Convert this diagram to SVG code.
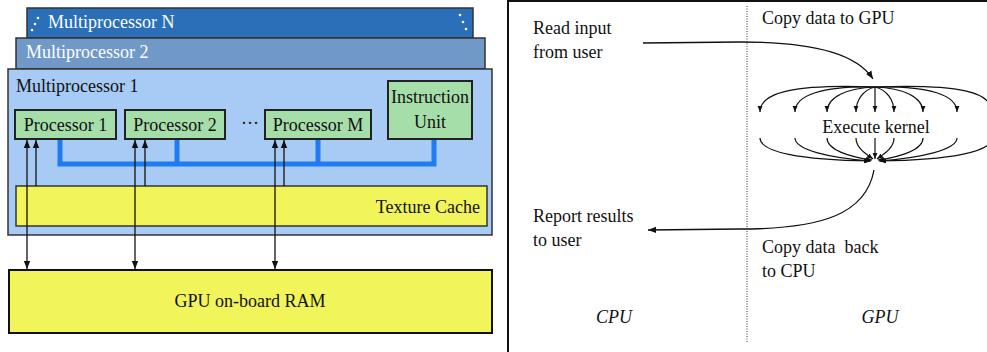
<svg xmlns="http://www.w3.org/2000/svg" width="987" height="352" viewBox="0 0 987 352">
<style>
text{font-family:"Liberation Serif","Times New Roman",serif;font-size:18px;fill:#111}
.w{fill:#fff}
.it{font-style:italic}
.mp{stroke:#333;stroke-width:1.5}
.pr{fill:#a6deaa;stroke:#222;stroke-width:2}
.bus{fill:none;stroke:#1e7cf0;stroke-width:5}
.ln{fill:none;stroke:#111;stroke-width:1.3}
.fan{fill:none;stroke:#111;stroke-width:1.2}
</style>
<defs>
<marker id="ah" viewBox="0 0 10 10" refX="10" refY="5" markerWidth="8" markerHeight="8" markerUnits="userSpaceOnUse" orient="auto-start-reverse"><path d="M0,1 L10,5 L0,9 Z" fill="#111"/></marker>
<marker id="ahs" viewBox="0 0 10 10" refX="10" refY="5" markerWidth="6" markerHeight="6" markerUnits="userSpaceOnUse" orient="auto"><path d="M0,1 L10,5 L0,9 Z" fill="#111"/></marker>
</defs>
<g id="multiprocessorN">
<rect x="27" y="8" width="446" height="30" fill="#2a6fb8" class="mp"/>
<circle cx="32" cy="30" r="1.3" fill="#fff"/><circle cx="35" cy="24" r="1.3" fill="#fff"/><circle cx="38" cy="18" r="1.3" fill="#fff"/>
<circle cx="460" cy="15" r="1.3" fill="#fff"/><circle cx="463" cy="22" r="1.3" fill="#fff"/><circle cx="466" cy="29" r="1.3" fill="#fff"/>
<text x="48" y="28" class="w">Multiprocessor N</text>
</g>
<g id="multiprocessor2">
<rect x="16" y="38" width="469" height="31" fill="#7099c8" class="mp"/>
<text x="26" y="58" class="w">Multiprocessor 2</text>
</g>
<g id="multiprocessor1">
<rect x="8" y="69" width="484" height="166" fill="#a7cbf4" class="mp"/>
<text x="16" y="92">Multiprocessor 1</text>
<text x="250" y="129" text-anchor="middle">···</text>
</g>
<g id="bus">
<path class="bus" d="M60,139 V164 H434 V139 M177,139 V164 M318,139 V164"/>
</g>
<g id="processor1"><rect x="15" y="110" width="101" height="29" class="pr"/><text x="65.5" y="131" text-anchor="middle">Processor 1</text></g>
<g id="processor2"><rect x="125" y="110" width="100" height="29" class="pr"/><text x="175" y="131" text-anchor="middle">Processor 2</text></g>
<g id="processorM"><rect x="265" y="110" width="106" height="29" class="pr"/><text x="318" y="131" text-anchor="middle">Processor M</text></g>
<g id="instructionUnit"><rect x="388" y="81" width="84" height="58" class="pr"/><text x="430" y="103" text-anchor="middle">Instruction</text><text x="430" y="128" text-anchor="middle">Unit</text></g>
<g id="textureCache"><rect x="16" y="186" width="471" height="40" fill="#f2f55a" class="mp"/><text x="480" y="213" text-anchor="end">Texture Cache</text></g>
<g id="gpuRam"><rect x="9" y="270" width="483" height="63" fill="#f2f55a" stroke="#111" stroke-width="2"/><text x="250" y="307" text-anchor="middle">GPU on-board RAM</text></g>
<g id="connectors">
<path class="ln" d="M27,140 V269" marker-start="url(#ah)" marker-end="url(#ah)"/>
<path class="ln" d="M36,186 V140" marker-end="url(#ah)"/>
<path class="ln" d="M135,140 V269" marker-start="url(#ah)" marker-end="url(#ah)"/>
<path class="ln" d="M145,186 V140" marker-end="url(#ah)"/>
<path class="ln" d="M275,140 V269" marker-start="url(#ah)" marker-end="url(#ah)"/>
<path class="ln" d="M284,186 V140" marker-end="url(#ah)"/>
</g>
<g id="cpuGpuPanel">
<path d="M508,353 V1 H990" fill="none" stroke="#111" stroke-width="2"/>
<line x1="747" y1="6" x2="747" y2="342" stroke="#333" stroke-width="1" stroke-dasharray="1,1.5"/>
<text x="533" y="34">Read input</text>
<text x="533" y="58">from user</text>
<text x="762" y="24">Copy data to GPU</text>
<text x="876" y="133" text-anchor="middle">Execute kernel</text>
<text x="533" y="222">Report results</text>
<text x="533" y="246">to user</text>
<text x="762" y="253">Copy data&#160; back</text>
<text x="762" y="277">to CPU</text>
<text x="614" y="323" text-anchor="middle" class="it">CPU</text>
<text x="880" y="323" text-anchor="middle" class="it">GPU</text>
</g>
<g id="flow">
<path class="ln" d="M643,43 L740,42 C820,42 858,56 873,79" marker-end="url(#ah)"/>
<path class="fan" d="M875,87 C795,84 760,92 760,112" marker-end="url(#ahs)"/>
<path class="fan" d="M875,87 C822,86 795,95 795,112" marker-end="url(#ahs)"/>
<path class="fan" d="M875,87 C847,88 827,97 827,112" marker-end="url(#ahs)"/>
<path class="fan" d="M875,87 C863,90 856,100 856,112" marker-end="url(#ahs)"/>
<path class="fan" d="M875,87 V112" marker-end="url(#ahs)"/>
<path class="fan" d="M875,87 C887,90 894,100 894,112" marker-end="url(#ahs)"/>
<path class="fan" d="M875,87 C903,88 923,97 923,112" marker-end="url(#ahs)"/>
<path class="fan" d="M875,87 C930,86 957,95 957,112" marker-end="url(#ahs)"/>
<path class="fan" d="M875,87 C960,84 992,92 992,112" marker-end="url(#ahs)"/>
<path class="fan" d="M760,138 C760,152 800,160 870,161" marker-end="url(#ahs)"/>
<path class="fan" d="M795,138 C795,150 830,158 871,161" marker-end="url(#ahs)"/>
<path class="fan" d="M827,138 C827,150 850,157 872,160" marker-end="url(#ahs)"/>
<path class="fan" d="M856,138 C856,148 866,154 873,159" marker-end="url(#ahs)"/>
<path class="fan" d="M875,138 V159" marker-end="url(#ahs)"/>
<path class="fan" d="M894,138 C894,148 884,154 877,159" marker-end="url(#ahs)"/>
<path class="fan" d="M923,138 C923,150 900,157 878,160" marker-end="url(#ahs)"/>
<path class="fan" d="M957,138 C957,150 920,158 879,161" marker-end="url(#ahs)"/>
<path class="fan" d="M992,138 C992,152 950,160 880,161" marker-end="url(#ahs)"/>
<path class="ln" d="M874,170 C866,214 822,229 740,229 L648,230" marker-end="url(#ah)"/>
</g>
</svg>
